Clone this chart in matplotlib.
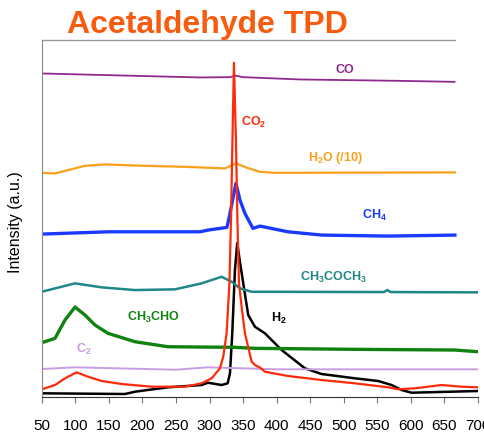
import matplotlib
matplotlib.use("Agg")
import matplotlib.pyplot as plt

plt.rcParams['font.family'] = ['Liberation Sans', 'DejaVu Sans']
plt.rcParams['mathtext.fontset'] = 'custom'
plt.rcParams['mathtext.rm'] = 'Liberation Sans'
plt.rcParams['mathtext.bf'] = 'Liberation Sans:bold'

# temperature (x) and intensity (arbitrary, offset traces)
co_t = [50, 150, 286, 330, 339, 350, 435, 584, 665]
co_i = [323.7, 322, 319.7, 320, 321.5, 320, 317.7, 316.3, 315.3]

h2o_t = [50, 69.8, 114.5, 144.3, 203.9, 263.4, 323, 339.4, 357.3, 375.2, 397.5, 665.6]
h2o_i = [224.3, 223.7, 231.3, 232.7, 231.3, 230.3, 228.7, 233.7, 229, 225.3, 224.3, 224.7]

ch4_t = [50, 150, 285.8, 297.7, 326, 329, 339.4, 345.4, 352.8, 364.7, 375.2, 416.9, 467.5, 565.8, 665.6]
ch4_i = [163, 165.3, 165.3, 167, 169.7, 178.7, 213.7, 197, 183.7, 168.7, 171, 165.3, 162, 161, 162]

acetone_t = [50, 99.6, 139.4, 188.9, 248.5, 288.3, 318, 333, 345.4, 362.8, 560, 565, 570, 700]
acetone_i = [105.3, 113.7, 109.7, 107, 107.7, 113.7, 120.3, 115.3, 108.7, 105.3, 105, 107, 105, 104.7]

acetald_t = [50, 69.8, 84.7, 99.6, 114.5, 129.4, 148.7, 188.9, 238, 337.9, 367.7, 516.6, 665.6, 700]
acetald_i = [54.3, 58.7, 77, 90, 82, 72, 63.7, 55.3, 50.3, 49.7, 48.7, 47.7, 47, 45.3]

c2_t = [50, 100, 250, 297, 400, 700]
c2_i = [28, 29.7, 27.3, 29.7, 27.7, 27.7]

co2_t = [50, 69.8, 84.7, 102.1, 119, 139.4, 169.2, 213.8, 263.4, 288.3, 303.2, 315.6, 320.5,
         325.5, 329.7, 332, 334.2, 336.4, 339.4, 341.6, 343.9, 348.4, 352.8, 362.8, 367.7,
         375.2, 382.6, 417.3, 467, 516.6, 566.2, 580.7, 606, 645.8, 675.6, 700]
co2_i = [7.7, 12, 18.7, 24.7, 20.3, 16, 13, 10.3, 10.3, 13.7, 18.7, 28.7, 40.3,
         63.7, 114, 177, 257, 334.3, 257, 177, 114, 87, 63.7, 35.3, 32,
         29.5, 25.3, 21, 17, 13.7, 9.7, 7.7, 8.7, 12, 10.3, 9.7]

h2_t = [50, 174, 188.9, 238, 288.3, 297.7, 318, 327, 330.5, 333.9, 337.9, 341.3, 345.4,
        350.3, 357.7, 367.7, 375.2, 382.6, 407.5, 442.2, 467, 516.6, 551.3, 571.3, 586.2,
        601.1, 700]
h2_i = [3.7, 3, 5.3, 9.7, 12, 14.3, 12, 13.7, 23.7, 63.7, 127, 154, 135,
        113.7, 82, 70.3, 67, 63.7, 47, 28.7, 23, 18.7, 16, 12, 7,
        4.3, 6]

x_ticks = list(range(50, 701, 50))

fig = plt.figure(figsize=(4.85, 4.32), dpi=100)
ax = fig.add_axes([0.086, 0.081, 0.8995, 0.826])

ax.plot(h2_t, h2_i, color='black', lw=1.8)
ax.plot(c2_t, c2_i, color='#C99DE2', lw=1.4)
ax.plot(acetald_t, acetald_i, color='#10820F', lw=2.4)
ax.plot(acetone_t, acetone_i, color='#1F8789', lw=1.8)
ax.plot(ch4_t, ch4_i, color='#1A3BFF', lw=2.4)
ax.plot(h2o_t, h2o_i, color='#F9A11B', lw=1.6)
ax.plot(co_t, co_i, color='#8E2A8E', lw=1.3)
ax.plot(co2_t, co2_i, color='#FF2A0A', lw=1.6)

ax.set_xlim(50, 700)
ax.set_ylim(0, 357)
ax.set_xticks(x_ticks)
ax.set_yticks([])
ax.tick_params(axis='x', direction='out', length=4, color='#777777',
               labelsize=11, pad=12)

for s in ['top', 'right']:
    ax.spines[s].set_visible(False)
ax.spines['left'].set_color('#888888')
ax.spines['bottom'].set_color('#333333')
ax.axhline(357, xmin=0, xmax=0.947, color='#999999', lw=1.0, clip_on=False)

lab = dict(fontsize=9, fontweight='bold', ha='center', va='center')
ax.text(502, 327, 'CO', color='#8E2A8E', **lab)
ax.text(366, 275, r'CO$_\mathbf{2}$', color='#FF2A0A', **lab)
ax.text(487, 239, r'H$_\mathbf{2}$O (/10)', color='#F9A11B', **lab)
ax.text(546, 182, r'CH$_\mathbf{4}$', color='#1A3BFF', **lab)
ax.text(484, 120, r'CH$_\mathbf{3}$COCH$_\mathbf{3}$', color='#1F8789', **lab)
ax.text(216, 80, r'CH$_\mathbf{3}$CHO', color='#10820F', **lab)
ax.text(403, 79, r'H$_\mathbf{2}$', color='black', **lab)
ax.text(113, 48, r'C$_\mathbf{2}$', color='#C99DE2', **lab)

fig.text(16 / 485, 1 - 222 / 432, 'Intensity (a.u.)', rotation=90,
         ha='center', va='center', fontsize=11.5)
fig.text(67 / 485, 1 - 33 / 432, 'Acetaldehyde TPD', color='#F95B0E',
         fontsize=23, fontweight='bold', ha='left', va='baseline')

fig.savefig('out.png', dpi=100)
